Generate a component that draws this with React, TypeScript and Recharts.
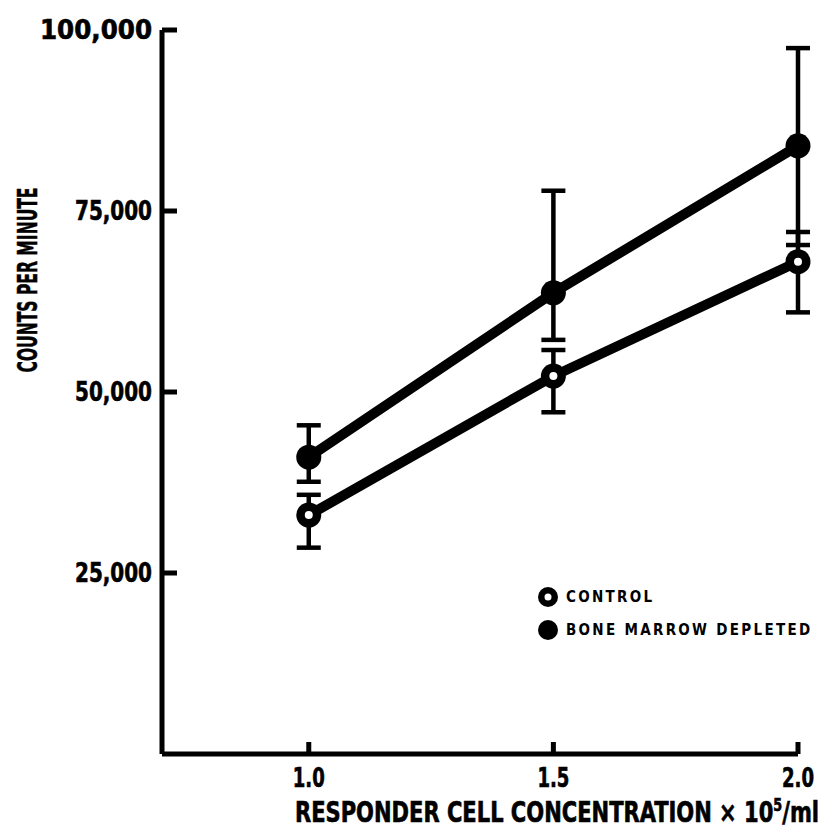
import { CartesianGrid, ErrorBar, Legend, Line, LineChart, XAxis, YAxis } from "recharts";

const FONT = "'DejaVu Sans Condensed', 'Liberation Sans Narrow', 'DejaVu Sans', sans-serif";

// concentration (x 10^5/ml)
const X_VALUES = [1.0, 1.5, 2.0];
const X_TICKS = [1.0, 1.5, 2.0];
const Y_TICKS = [25000, 50000, 75000, 100000];

// counts per minute; errors are [below, above]
const CONTROL = [33000, 52200, 68000];
const CONTROL_ERR = [[4500, 2800], [5000, 3600], [7000, 4100]];
const DEPLETED = [41000, 63700, 84000];
const DEPLETED_ERR = [[3400, 4400], [6500, 14100], [13700, 13500]];

const LEGEND = [
  { key: "control", label: "CONTROL", hollow: true },
  { key: "depleted", label: "BONE MARROW DEPLETED", hollow: false },
];

const rows = X_VALUES.map((x, i) => ({
  x,
  control: CONTROL[i],
  controlErr: CONTROL_ERR[i],
  depleted: DEPLETED[i],
  depletedErr: DEPLETED_ERR[i],
}));

function YTick({ x, y, payload }: any) {
  const text = Number(payload.value).toLocaleString("en-US");
  return (
    <g>
      <line x1={x} y1={y} x2={x + 15} y2={y} stroke="#000" strokeWidth={5} />
      <text
        x={x - 10}
        y={y + 9}
        textAnchor="end"
        fontFamily={FONT}
        fontWeight="bold"
        fontSize={26}
        fill="#000"
        stroke="#000"
        strokeWidth={0.6}
        textLength={text.length > 6 ? 112 : 77}
        lengthAdjust="spacingAndGlyphs"
      >
        {text}
      </text>
    </g>
  );
}

function XTick({ x, y, payload }: any) {
  return (
    <g>
      <line x1={x} y1={y} x2={x} y2={y - 12} stroke="#000" strokeWidth={5} />
      <text
        x={x}
        y={y + 33}
        textAnchor="middle"
        fontFamily={FONT}
        fontWeight="bold"
        fontSize={26}
        fill="#000"
        stroke="#000"
        strokeWidth={0.6}
        textLength={32}
        lengthAdjust="spacingAndGlyphs"
      >
        {Number(payload.value).toFixed(1)}
      </text>
    </g>
  );
}

function YLabel({ viewBox }: any) {
  const cx = viewBox.x + 28;
  const cy = viewBox.y + 250;
  return (
    <text
      x={cx}
      y={cy}
      transform={`rotate(-90 ${cx} ${cy})`}
      textAnchor="middle"
      dominantBaseline="central"
      fontFamily={FONT}
      fontWeight="bold"
      fontSize={26}
      fill="#000"
      stroke="#000"
      strokeWidth={0.5}
      textLength={185}
      lengthAdjust="spacingAndGlyphs"
    >
      COUNTS PER MINUTE
    </text>
  );
}

function XLabel({ viewBox }: any) {
  return (
    <text
      x={viewBox.x + 133}
      y={viewBox.y + 68}
      fontFamily={FONT}
      fontWeight="bold"
      fontSize={28}
      fill="#000"
      stroke="#000"
      strokeWidth={0.6}
      textLength={524}
      lengthAdjust="spacingAndGlyphs"
    >
      RESPONDER CELL CONCENTRATION × 10
      <tspan dy={-11} fontSize={17}>5</tspan>
      <tspan dy={11}>/ml</tspan>
    </text>
  );
}

function ControlDot({ cx, cy, index }: any) {
  return (
    <g key={`c-${index}`}>
      <circle cx={cx} cy={cy} r={12.5} fill="#000" />
      <circle cx={cx} cy={cy} r={4} fill="#fff" />
    </g>
  );
}

function DepletedDot({ cx, cy, index }: any) {
  return <circle key={`d-${index}`} cx={cx} cy={cy} r={12.5} fill="#000" />;
}

function LegendBox() {
  return (
    <div style={{ fontFamily: FONT, fontWeight: "bold", fontSize: 15, letterSpacing: 2.3 }}>
      {LEGEND.map((item) => (
        <div key={item.key} style={{ display: "flex", alignItems: "center", height: 33 }}>
          <svg width={24} height={24} style={{ marginRight: 6 }}>
            <circle cx={12} cy={12} r={10} fill="#000" />
            {item.hollow && <circle cx={12} cy={12} r={3.5} fill="#fff" />}
          </svg>
          <span style={{ whiteSpace: "nowrap" }}>{item.label}</span>
        </div>
      ))}
    </div>
  );
}

export default function App() {
  return (
    <div style={{ width: 818, height: 830, background: "#fff" }}>
      <style>{"body{margin:0}"}</style>
      <LineChart
        width={818}
        height={830}
        data={rows}
        margin={{ top: 30, right: 20, bottom: 46, left: 0 }}
      >
        <CartesianGrid stroke="none" />
        <XAxis
          type="number"
          dataKey="x"
          domain={[0.7, 2.0]}
          ticks={X_TICKS}
          height={30}
          tick={<XTick />}
          tickLine={false}
          tickSize={0}
          tickMargin={0}
          axisLine={{ stroke: "#000", strokeWidth: 5 }}
          label={<XLabel />}
        />
        <YAxis
          type="number"
          domain={[0, 100000]}
          ticks={Y_TICKS}
          width={162}
          tick={<YTick />}
          tickLine={false}
          tickSize={0}
          tickMargin={0}
          axisLine={{ stroke: "#000", strokeWidth: 5 }}
          label={<YLabel />}
        />
        <Legend
          layout="horizontal"
          verticalAlign="middle"
          align="center"
          content={<LegendBox />}
          wrapperStyle={{ left: 536, top: 580, width: 282 }}
        />
        <Line
          dataKey="depleted"
          type="linear"
          stroke="#000"
          strokeWidth={10}
          dot={<DepletedDot />}
          activeDot={false}
          isAnimationActive={false}
        >
          <ErrorBar dataKey="depletedErr" stroke="#000" strokeWidth={4.5} width={12} />
        </Line>
        <Line
          dataKey="control"
          type="linear"
          stroke="#000"
          strokeWidth={10}
          dot={<ControlDot />}
          activeDot={false}
          isAnimationActive={false}
        >
          <ErrorBar dataKey="controlErr" stroke="#000" strokeWidth={4.5} width={12} />
        </Line>
      </LineChart>
    </div>
  );
}
